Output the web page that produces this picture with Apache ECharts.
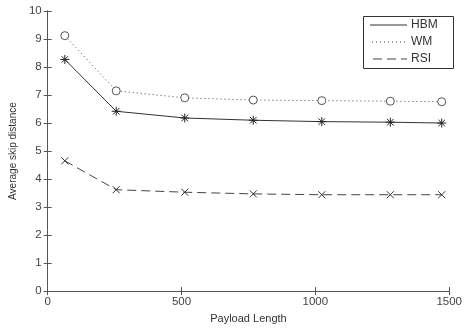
<!DOCTYPE html>
<html><head><meta charset="utf-8">
<script src="https://cdn.jsdelivr.net/npm/echarts@6/dist/echarts.min.js"></script>
<style>html,body{margin:0;padding:0;background:#fff}#c{width:465px;height:329px}</style>
</head><body><div id="c"></div>
<script>
const xValues = [64, 256, 512, 768, 1024, 1280, 1472];
const hbm = [8.27, 6.42, 6.18, 6.10, 6.05, 6.03, 6.00];
const wm  = [9.12, 7.15, 6.90, 6.82, 6.80, 6.78, 6.76];
const rsi = [4.65, 3.62, 3.53, 3.47, 3.44, 3.44, 3.44];
const seriesNames = ['HBM', 'WM', 'RSI'];
const xTitle = 'Payload Length';
const yTitle = 'Average skip distance';

const pair = (arr) => xValues.map((x, i) => [x, arr[i]]);
const font = 'Liberation Sans, Arial, sans-serif';
const axisCol = '#555';
const chart = echarts.init(document.getElementById('c'), null, {renderer: 'canvas'});

const starPath = 'path://M0,-5L0,5M-5,0L5,0M-3.6,-3.6L3.6,3.6M-3.6,3.6L3.6,-3.6';
const xPath = 'path://M-4,-4L4,4M-4,4L4,-4';
const circlePath = 'path://M5,0A5,5,0,1,1,-5,0A5,5,0,1,1,5,0Z';

const baseX = {type: 'value', min: 0, max: 1500, interval: 500};
const baseY = {type: 'value', min: 0, max: 10, interval: 1};

chart.setOption({
  animation: false,
  backgroundColor: '#fff',
  grid: {left: 46, right: 11, top: 11, bottom: 31, containLabel: false},
  xAxis: [
    Object.assign({}, baseX, {
      position: 'bottom',
      name: xTitle, nameLocation: 'middle', nameGap: 18,
      nameTextStyle: {fontFamily: font, fontSize: 11, color: '#333'},
      axisLine: {lineStyle: {color: axisCol, width: 1}},
      axisTick: {inside: true, length: 4, lineStyle: {color: axisCol}},
      axisLabel: {fontFamily: font, fontSize: 11.5, color: '#444', margin: 5, showMaxLabel: true,
                  formatter: (v) => String(v)},
      splitLine: {show: false}
    }),
    Object.assign({}, baseX, {
      position: 'top',
      axisLine: {lineStyle: {color: axisCol, width: 1}},
      axisTick: {inside: true, length: 4, lineStyle: {color: axisCol}},
      axisLabel: {show: false},
      splitLine: {show: false}
    })
  ],
  yAxis: [
    Object.assign({}, baseY, {
      position: 'left',
      name: yTitle, nameLocation: 'middle', nameGap: 29,
      nameTextStyle: {fontFamily: font, fontSize: 10, color: '#333'},
      axisLine: {show: true, lineStyle: {color: axisCol, width: 1}},
      axisTick: {show: true, inside: true, length: 4, lineStyle: {color: axisCol}},
      axisLabel: {fontFamily: font, fontSize: 11.5, color: '#444', margin: 6},
      splitLine: {show: false}
    }),
    Object.assign({}, baseY, {
      position: 'right',
      axisLine: {show: true, lineStyle: {color: axisCol, width: 1}},
      axisTick: {show: true, inside: true, length: 4, lineStyle: {color: axisCol}},
      axisLabel: {show: false},
      splitLine: {show: false}
    })
  ],
  series: [
    {
      name: seriesNames[0], type: 'line', data: pair(hbm),
      symbol: starPath, symbolSize: 9,
      lineStyle: {color: '#333', width: 1, type: 'solid'},
      itemStyle: {color: 'rgba(0,0,0,0)', borderColor: '#222', borderWidth: 1}
    },
    {
      name: seriesNames[1], type: 'line', data: pair(wm),
      symbol: circlePath, symbolSize: 8,
      lineStyle: {color: '#444', width: 1, type: [1, 3]},
      itemStyle: {color: '#fff', borderColor: '#555', borderWidth: 1}
    },
    {
      name: seriesNames[2], type: 'line', data: pair(rsi),
      symbol: xPath, symbolSize: 7,
      lineStyle: {color: '#444', width: 1, type: [9, 5]},
      itemStyle: {color: 'rgba(0,0,0,0)', borderColor: '#333', borderWidth: 1}
    }
  ],
  graphic: [
    {type: 'rect', left: 363, top: 16, shape: {width: 90, height: 52},
     style: {fill: '#fff', stroke: '#333', lineWidth: 1}},
    {type: 'line', shape: {x1: 370, y1: 25, x2: 407, y2: 25}, style: {stroke: '#333', lineWidth: 1}},
    {type: 'line', shape: {x1: 372, y1: 42, x2: 407, y2: 42}, style: {stroke: '#444', lineWidth: 1, lineDash: [1, 3]}},
    {type: 'line', shape: {x1: 373, y1: 59, x2: 407, y2: 59}, style: {stroke: '#444', lineWidth: 1, lineDash: [9, 5]}},
    {type: 'text', left: 411, top: 19, style: {text: seriesNames[0], font: '12px ' + font, fill: '#333'}},
    {type: 'text', left: 411, top: 36, style: {text: seriesNames[1], font: '12px ' + font, fill: '#333'}},
    {type: 'text', left: 411, top: 53, style: {text: seriesNames[2], font: '12px ' + font, fill: '#333'}}
  ]
});
</script></body></html>
